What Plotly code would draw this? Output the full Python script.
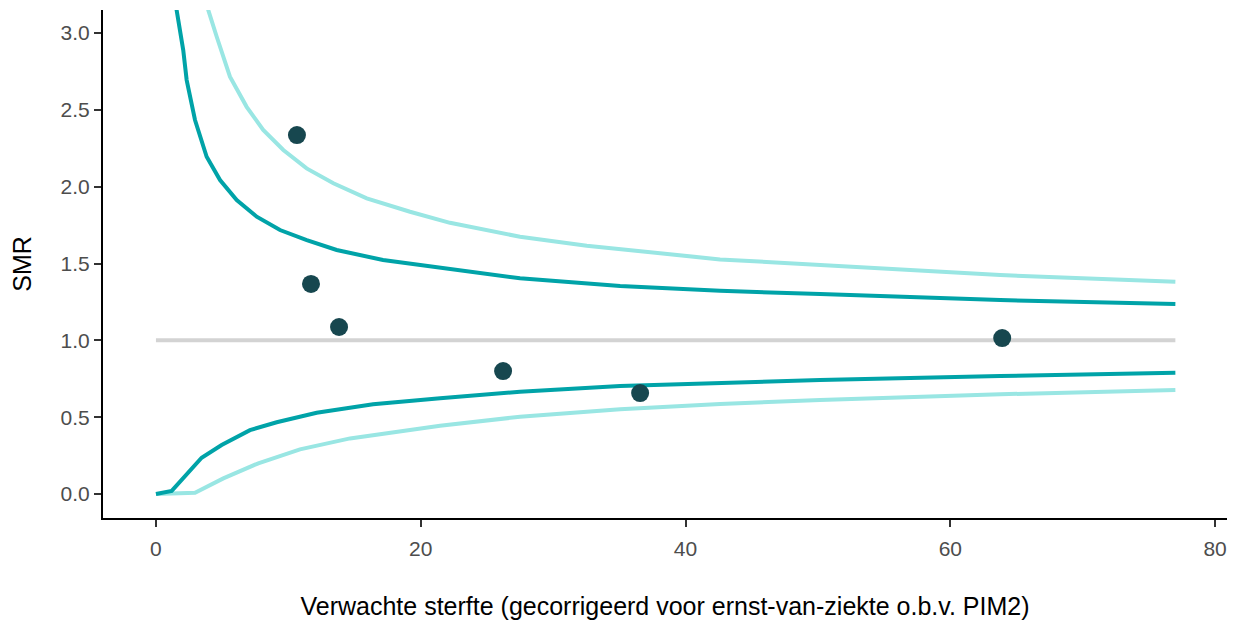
import plotly.graph_objects as go

# Reference line (SMR = 1)
ref_x = [0, 77]
ref_y = [1.0, 1.0]

# Upper 95% limit (dark teal)
up95_x = [1.3, 1.56, 2.06, 2.32, 2.95, 3.83, 4.84, 6.10, 7.61, 9.37, 11.39, 13.65,
          17.15, 22.21, 27.50, 35.06, 42.61, 50.17, 63.77, 77]
up95_y = [3.6, 3.15, 2.889, 2.694, 2.434, 2.195, 2.043, 1.913, 1.805, 1.718, 1.653, 1.588,
          1.523, 1.462, 1.404, 1.354, 1.323, 1.301, 1.262, 1.236]

# Upper 99.8% limit (light teal)
up998_x = [3.5, 3.95, 4.59, 5.59, 6.85, 8.10, 9.62, 11.38, 13.40, 15.92, 19.19, 22.21,
           27.50, 32.54, 42.61, 50.17, 63.77, 77]
up998_y = [3.45, 3.15, 2.976, 2.716, 2.520, 2.369, 2.239, 2.119, 2.022, 1.924, 1.837, 1.765,
           1.674, 1.616, 1.527, 1.490, 1.425, 1.382]

# Lower 95% limit (dark teal)
lo95_x = [0, 1.19, 3.45, 4.96, 7.10, 9.12, 12.14, 16.40, 21.46, 27.50, 35.06, 42.61,
          50.17, 63.77, 77]
lo95_y = [0.0, 0.020, 0.236, 0.319, 0.416, 0.467, 0.529, 0.584, 0.623, 0.666, 0.703, 0.724,
          0.742, 0.768, 0.789]

# Lower 99.8% limit (light teal)
lo998_x = [0, 2.95, 5.09, 7.73, 10.88, 14.66, 21.46, 27.50, 35.06, 42.61, 50.17, 63.77, 77]
lo998_y = [0.0, 0.008, 0.102, 0.200, 0.291, 0.362, 0.444, 0.503, 0.551, 0.586, 0.612, 0.649, 0.677]

# Units: expected mortality vs SMR
exp_deaths = [10.65, 11.71, 13.83, 26.22, 36.57, 63.92]
smr = [2.336, 1.367, 1.087, 0.800, 0.657, 1.015]

x_ticks = [0, 20, 40, 60, 80]
y_ticks = [0.0, 0.5, 1.0, 1.5, 2.0, 2.5, 3.0]

DARK = "#00A3A8"
LIGHT = "#99E6E3"
POINT = "#17474F"
LW = 4

fig = go.Figure()
fig.add_trace(go.Scatter(x=ref_x, y=ref_y, mode="lines",
                         line=dict(color="#D3D3D3", width=LW), showlegend=False))
fig.add_trace(go.Scatter(x=up998_x, y=up998_y, mode="lines",
                         line=dict(color=LIGHT, width=LW), showlegend=False))
fig.add_trace(go.Scatter(x=lo998_x, y=lo998_y, mode="lines",
                         line=dict(color=LIGHT, width=LW), showlegend=False))
fig.add_trace(go.Scatter(x=up95_x, y=up95_y, mode="lines",
                         line=dict(color=DARK, width=LW), showlegend=False))
fig.add_trace(go.Scatter(x=lo95_x, y=lo95_y, mode="lines",
                         line=dict(color=DARK, width=LW), showlegend=False))
fig.add_trace(go.Scatter(x=exp_deaths, y=smr, mode="markers",
                         marker=dict(color=POINT, size=18, line=dict(width=0)),
                         showlegend=False))

fig.update_layout(
    width=1241, height=625,
    margin=dict(l=103, r=14, t=10, b=107),
    plot_bgcolor="white", paper_bgcolor="white",
    font=dict(family="Liberation Sans, Arial, sans-serif", size=21, color="#4D4D4D"),
    xaxis=dict(
        range=[-4.0, 80.9], tickvals=x_ticks, ticktext=[str(v) for v in x_ticks],
        showgrid=False, zeroline=False, showline=True, linecolor="black", linewidth=2,
        ticks="outside", ticklen=7, tickwidth=1.5, tickcolor="#333333", automargin=False,
        tickfont=dict(size=21, color="#4D4D4D"), ticklabelstandoff=4,
        title=dict(text="Verwachte sterfte (gecorrigeerd voor ernst-van-ziekte o.b.v. PIM2)",
                   font=dict(size=25, color="black"), standoff=38),
    ),
    yaxis=dict(
        range=[-0.156, 3.15], tickvals=y_ticks, ticktext=[f"{v:.1f}" for v in y_ticks],
        showgrid=False, zeroline=False, showline=True, linecolor="black", linewidth=2,
        ticks="outside", ticklen=7, tickwidth=1.5, tickcolor="#333333", automargin=False,
        tickfont=dict(size=21, color="#4D4D4D"),
        title=dict(text="SMR", font=dict(size=25, color="black"), standoff=22),
    ),
)

fig.write_html("out.html", config={"displayModeBar": False},
               post_script="document.body.style.margin='0';document.body.style.overflow='hidden';")
